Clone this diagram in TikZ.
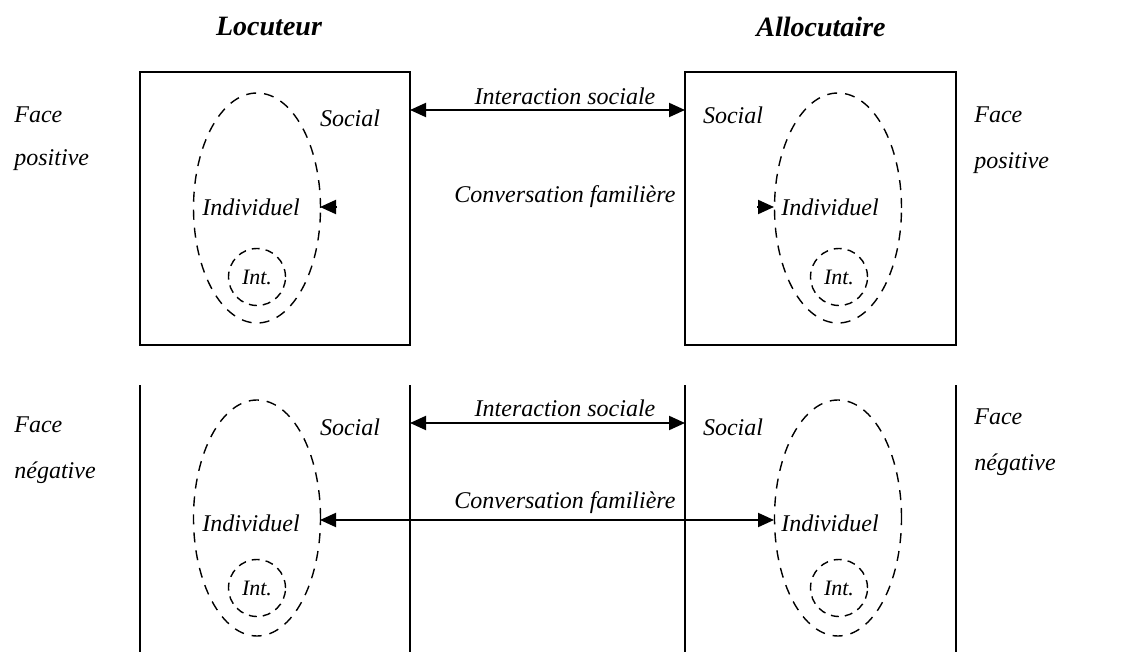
\documentclass[tikz,border=0pt]{standalone}
\usepackage{fontspec}
\setmainfont{Liberation Serif}
\usetikzlibrary{shapes.geometric,arrows.meta}
\tikzset{
  oeuf/.style={ellipse, draw, dash pattern=on 5pt off 4pt, line width=0.7pt, minimum width=63.5pt, minimum height=115pt, inner sep=0pt},
  intime/.style={circle, draw, dash pattern=on 4pt off 3pt, line width=0.7pt, minimum size=28.5pt, inner sep=0pt, font=\fontsize{11}{13}\selectfont\itshape},
  lbl/.style={font=\fontsize{12}{14}\selectfont\itshape, inner sep=1pt},
  titre/.style={font=\fontsize{14}{16}\selectfont\bfseries\itshape},
  cadre/.style={line width=1pt},
  fleche/.style={line width=1pt, -{Triangle[length=8pt,width=7pt]}},
  fleches/.style={line width=1pt, {Triangle[length=8pt,width=7pt]}-{Triangle[length=8pt,width=7pt]}},
}
\begin{document}
\begin{tikzpicture}[x=0.5pt,y=-0.5pt]
\useasboundingbox (0,0) rectangle (1124,652);
% Titles
\node[titre] (loc) at (269,27) {Locuteur};
\node[titre] (alloc) at (821,27) {Allocutaire};
% Face positive
\draw[cadre] (140,72) rectangle (410,345);
\draw[cadre] (685,72) rectangle (956,345);
\node[lbl, anchor=west] (fpL1) at (12,115) {Face};
\node[lbl, anchor=west] (fpL2) at (12,160) {positive};
\node[lbl, anchor=west] (fpR1) at (972,115) {Face};
\node[lbl, anchor=west] (fpR2) at (972,163) {positive};
\node[oeuf] (ovLT) at (257,208) {};
\node[intime] (intLT) at (257,277) {Int.};
\node[lbl] (indLT) at (251,207) {Individuel};
\node[lbl] (socLT) at (350,118) {Social};
\node[oeuf] (ovRT) at (838,208) {};
\node[intime] (intRT) at (839,277) {Int.};
\node[lbl] (indRT) at (830,207) {Individuel};
\node[lbl] (socRT) at (733,115) {Social};
% Top arrows
\coordinate (isLT) at (410,110);
\coordinate (isRT) at (685,110);
\draw[fleches] (isLT) -- (isRT);
\node[lbl] (isT) at (565,96) {Interaction sociale};
\node[lbl] (cfT) at (565,197) {Conversation familière};
\coordinate (cfLTa) at (337,207);
\coordinate (cfLT) at (320,207);
\draw[fleche] (cfLTa) -- (cfLT);
\coordinate (cfRTa) at (757,207);
\coordinate (cfRT) at (774,207);
\draw[fleche] (cfRTa) -- (cfRT);
% Face negative
\foreach \x in {140,410,685,956}
  \draw[cadre] (\x,385) -- (\x,652);
\node[lbl, anchor=west] (fnL1) at (12,425) {Face};
\node[lbl, anchor=west] (fnL2) at (12,473) {négative};
\node[lbl, anchor=west] (fnR1) at (972,417) {Face};
\node[lbl, anchor=west] (fnR2) at (972,465) {négative};
\node[oeuf, minimum height=118pt] (ovLB) at (257,518) {};
\node[intime] (intLB) at (257,588) {Int.};
\node[lbl] (indLB) at (251,523) {Individuel};
\node[lbl] (socLB) at (350,427) {Social};
\node[oeuf, minimum height=118pt] (ovRB) at (838,518) {};
\node[intime] (intRB) at (839,588) {Int.};
\node[lbl] (indRB) at (830,523) {Individuel};
\node[lbl] (socRB) at (733,427) {Social};
% Bottom arrows
\coordinate (isLB) at (410,423);
\coordinate (isRB) at (685,423);
\draw[fleches] (isLB) -- (isRB);
\node[lbl] (isB) at (565,408) {Interaction sociale};
\coordinate (cfLB) at (320,520);
\coordinate (cfRB) at (774,520);
\draw[fleches] (cfLB) -- (cfRB);
\node[lbl] (cfB) at (565,503) {Conversation familière};
\end{tikzpicture}
\end{document}
